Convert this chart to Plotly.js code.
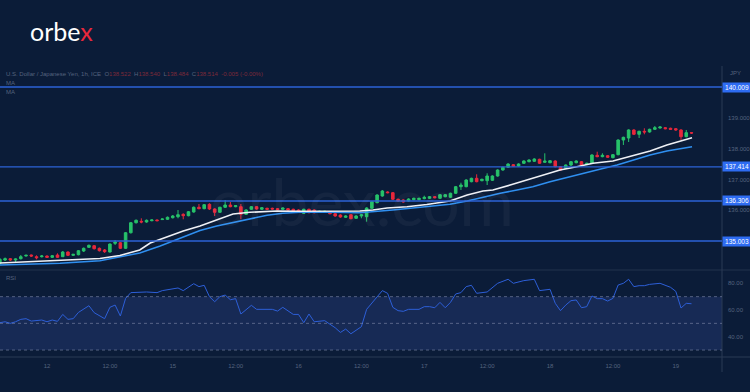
<!DOCTYPE html>
<html><head><meta charset="utf-8">
<script src="https://cdn.plot.ly/plotly-3.0.1.min.js"></script>
<style>html,body{margin:0;padding:0;background:#0b1c38;overflow:hidden}#chart{width:750px;height:392px}</style>
</head><body><div id="chart"></div>
<script>
// ---- data (USD/JPY 1h) ----
const openP = [134.279,134.386,134.428,134.386,134.428,134.516,134.548,134.493,134.493,134.516,134.473,134.548,134.493,134.646,134.538,134.558,134.678,134.798,134.850,134.766,134.711,134.646,134.928,134.948,134.766,135.273,135.598,135.644,135.621,135.664,135.687,135.700,135.709,135.761,135.793,135.871,135.826,135.947,136.100,136.054,136.197,136.044,135.937,136.100,136.174,136.119,136.119,135.871,136.035,136.119,136.035,136.067,136.067,136.054,136.035,136.054,136.035,136.011,135.904,136.035,136.011,135.937,135.937,135.956,135.891,135.849,135.774,135.858,135.742,135.817,135.793,136.067,136.249,136.467,136.597,136.574,136.360,136.337,136.304,136.347,136.347,136.380,136.392,136.444,136.392,136.444,136.425,136.555,136.769,136.769,136.932,137.042,136.964,136.964,136.977,137.117,137.312,137.400,137.484,137.442,137.530,137.582,137.595,137.660,137.562,137.549,137.605,137.419,137.364,137.474,137.549,137.582,137.494,137.530,137.790,137.745,137.777,137.713,137.810,138.287,138.352,138.613,138.473,138.570,138.548,138.635,138.678,138.687,138.668,138.655,138.613,138.395,138.522];
const highP = [134.451,134.467,134.451,134.435,134.548,134.564,134.564,134.538,134.548,134.532,134.548,134.603,134.678,134.662,134.581,134.711,134.792,134.889,134.873,134.792,134.743,134.922,135.036,134.971,135.296,135.621,135.703,135.742,135.703,135.703,135.703,135.735,135.800,135.849,136.011,135.904,135.979,136.126,136.207,136.207,136.230,136.067,136.119,136.337,136.272,136.174,136.207,136.035,136.142,136.142,136.109,136.087,136.087,136.077,136.093,136.077,136.054,136.035,136.054,136.054,136.035,135.989,135.989,135.979,135.914,135.871,135.839,135.881,135.839,135.881,136.100,136.304,136.522,136.662,136.619,136.597,136.380,136.360,136.392,136.412,136.412,136.477,136.467,136.467,136.532,136.532,136.574,136.792,136.899,137.010,137.062,137.172,137.029,137.205,137.140,137.335,137.419,137.530,137.507,137.530,137.627,137.660,137.692,137.679,137.855,137.637,137.627,137.442,137.494,137.605,137.627,137.605,137.549,137.822,137.907,137.855,137.800,137.832,138.310,138.395,138.635,138.635,138.590,138.668,138.655,138.743,138.733,138.710,138.687,138.678,138.635,138.613,138.540];
const lowP = [134.224,134.354,134.354,134.311,134.402,134.499,134.483,134.409,134.467,134.451,134.451,134.451,134.483,134.516,134.516,134.538,134.646,134.776,134.727,134.662,134.617,134.630,134.873,134.743,134.743,135.247,135.572,135.579,135.598,135.644,135.644,135.687,135.687,135.735,135.742,135.709,135.806,135.924,136.035,136.035,136.011,135.817,135.914,136.077,136.100,136.100,135.709,135.849,136.011,136.022,136.011,136.011,136.022,136.001,136.011,135.989,135.956,135.924,135.881,135.904,135.904,135.914,135.914,135.871,135.793,135.761,135.751,135.709,135.719,135.742,135.632,136.044,136.230,136.444,136.554,136.337,136.282,136.249,136.282,136.327,136.327,136.360,136.369,136.392,136.369,136.425,136.402,136.532,136.662,136.750,136.912,136.912,136.945,136.824,136.955,137.094,137.289,137.377,137.410,137.419,137.507,137.562,137.572,137.507,137.540,137.530,137.400,137.289,137.345,137.442,137.530,137.452,137.474,137.507,137.726,137.726,137.702,137.689,137.790,138.125,138.222,138.450,138.352,138.473,138.525,138.613,138.655,138.635,138.613,138.590,138.287,138.375,138.484];
const closeP = [134.409,134.428,134.386,134.418,134.493,134.538,134.516,134.460,134.516,134.473,134.525,134.473,134.646,134.538,134.571,134.688,134.766,134.863,134.753,134.688,134.656,134.906,134.971,134.766,135.273,135.598,135.677,135.621,135.677,135.687,135.664,135.719,135.774,135.817,135.858,135.826,135.956,136.100,136.054,136.184,136.044,135.937,136.100,136.174,136.119,136.152,135.871,136.011,136.119,136.044,136.087,136.035,136.044,136.022,136.077,136.011,135.979,135.947,136.035,135.924,135.924,135.969,135.969,135.891,135.817,135.784,135.817,135.729,135.817,135.858,136.077,136.282,136.499,136.629,136.574,136.360,136.304,136.272,136.369,136.392,136.392,136.425,136.444,136.412,136.509,136.509,136.555,136.769,136.824,136.987,137.042,136.932,137.010,137.117,137.117,137.312,137.400,137.507,137.432,137.507,137.605,137.637,137.670,137.530,137.605,137.614,137.419,137.312,137.474,137.582,137.605,137.475,137.530,137.800,137.745,137.790,137.726,137.810,138.287,138.375,138.613,138.473,138.570,138.548,138.635,138.687,138.710,138.655,138.635,138.613,138.395,138.525,138.514];

const maFastX = [0,11.5,19.1,22.9,26.7,28.7,31.9,35,38.2,41.4,44.5,47.7,52.9,57.3,63.6,68.7,71.2,73.9,77.7,81.5,85.9,89.2,92.2,94.1,97.4,101.7,105,106.9,110.1,113.2,117,120.3,124.1,127.3,130.4,132.1];
const maFast = [134.289,134.370,134.435,134.533,134.711,134.939,135.134,135.329,135.492,135.703,135.882,135.937,135.979,135.970,135.979,135.979,136.011,136.077,136.119,136.191,136.304,136.500,136.630,136.662,136.824,137.042,137.205,137.312,137.419,137.530,137.605,137.745,137.930,138.125,138.265,138.362];
const maSlowX = [0,11.5,19.1,23.9,26.7,30.6,34.4,38.2,41.4,44.5,47.2,51,54,57.3,63.6,68.7,75,80.2,85.9,89.2,92.2,95.5,98.7,101.7,105,108.2,111.3,114.5,117.8,120.8,124.1,127.3,130.4,132.1];
const maSlow = [134.224,134.279,134.363,134.516,134.614,134.841,135.085,135.345,135.492,135.605,135.687,135.840,135.905,135.937,135.937,135.924,136.011,136.100,136.200,136.304,136.425,136.555,136.662,136.769,136.932,137.075,137.205,137.335,137.475,137.637,137.800,137.930,138.018,138.070];

const rsiX = [0,1,2,3,4,5,6,7,8,9,10,11,12,13,14,15,17,18,20,21,22,23,24,25,27,28,30,31,34,35,37,38,39,40,41,42,43,44,45,46,48,49,52,53,54,56,57,58,59,60,62,64,65,66,67,68,69,70,72,73,74,75,76,77,78,80,81,82,83,84,85,86,87,88,89,90,91,93,95,97,98,100,102,103,105,106,107,108,109,110,111,112,113,114,115,116,117,118,119,120,121,122,123,124,126,128,129,130,131,132];
const rsi = [50.5,51.2,50,51.2,53,53.5,51.7,52,52.5,51.2,52.5,51.5,56.7,53,53.5,58.2,63.2,58,53.5,62,63.7,55.5,68.7,73,73.2,73.5,73,74.5,76.5,74.5,79.7,77.5,78.5,70,66.2,70,71.2,67.7,68.5,57,63.5,60.5,60.5,59.2,62,56.7,56.7,50.5,57,51.2,52,46.7,43.2,45.7,42.2,45,47.5,60.5,70,74.5,72.5,62,59.5,59,60.5,60.5,62.5,62.5,61.7,65.7,61.7,65.7,72,73,77.5,78.5,72.5,73.5,80,83,80,82,83,74.5,75.5,65,59.5,63.7,67,67.5,61.7,62.5,70.5,68.5,68.5,66.7,68.7,78.7,80,83,77.5,78.2,78.2,79.2,80,77,74,61.5,65,64.7];

const levels = [140.009, 137.414, 136.306, 135.003];
const priceTicks = [136, 137, 138, 139];
const rsiTicks = [40, 60, 80];
const rsiGuides = [70, 50, 30];
const timeTickPos = [9,21,33,45,57,69,81,93,105,117,129];
const timeTickText = ['12','12:00','15','12:00','16','12:00','17','12:00','18','12:00','19'];
const header = {name:'U.S. Dollar / Japanese Yen, 1h, ICE', o:'138.522', h:'138.540', l:'138.484', c:'138.514', chg:'-0.005 (-0.00%)'};

// ---- layout constants ----
const W = 750, H = 392;
const XR = 722 / W;                 // right edge of plot
const priceDom = [(H-270)/H, (H-62)/H];
const rsiDom = [(H-357)/H, (H-270)/H];
const GREEN = '#27c26a', RED = '#e8283c';
const idx = closeP.map((_, i) => i);
const dim = '#55637e';
const nb = '\u00a0';

const traces = [
  {type:'candlestick', x: idx, open: openP, high: highP, low: lowP, close: closeP,
   increasing:{line:{color:GREEN, width:1}, fillcolor:GREEN},
   decreasing:{line:{color:RED, width:1}, fillcolor:RED},
   whiskerwidth:0, hoverinfo:'skip', xaxis:'x', yaxis:'y'},
  {type:'scatter', mode:'lines', x: maSlowX, y: maSlow, line:{color:'#2f8ff0', width:1.5}, hoverinfo:'skip', xaxis:'x', yaxis:'y'},
  {type:'scatter', mode:'lines', x: maFastX, y: maFast, line:{color:'#eef0f5', width:1.6}, hoverinfo:'skip', xaxis:'x', yaxis:'y'},
  {type:'scatter', mode:'lines', x: rsiX, y: rsi, line:{color:'#2d5fd8', width:1}, hoverinfo:'skip', xaxis:'x', yaxis:'y2'}
];

const shapes = [
  // RSI band
  {type:'rect', xref:'paper', yref:'y2', x0:0, x1:XR, y0:30, y1:70, fillcolor:'#172a55', line:{width:0}, layer:'below'},
  // pane separators / axis lines
  {type:'line', xref:'paper', yref:'paper', x0:0, x1:1, y0:priceDom[0], y1:priceDom[0], line:{color:'#22324d', width:1}},
  {type:'line', xref:'paper', yref:'paper', x0:0, x1:1, y0:rsiDom[0], y1:rsiDom[0], line:{color:'#2a3a55', width:1}},
  {type:'line', xref:'paper', yref:'paper', x0:XR, x1:XR, y0:(H-372)/H, y1:(H-66)/H, line:{color:'#2a3a55', width:1}}
];
rsiGuides.forEach(v => shapes.push({type:'line', xref:'paper', yref:'y2', x0:0, x1:XR, y0:v, y1:v,
  line:{color:'rgba(140,150,180,0.55)', width:1, dash:'dot'}}));
levels.forEach(v => shapes.push({type:'line', xref:'paper', yref:'y', x0:0, x1:XR, y0:v, y1:v,
  line:{color:'#2c62d6', width:1.4}}));

const annotations = [
  {xref:'paper', yref:'paper', x:28/W, y:(H-31)/H, xanchor:'left', yanchor:'middle', showarrow:false,
   text:'orbe<span style="color:#e8283c">x</span>', font:{family:'Lato, Open Sans, sans-serif', size:25, color:'#ffffff'}},
  {xref:'paper', yref:'paper', x:362/W, y:(H-200)/H, xanchor:'center', yanchor:'middle', showarrow:false,
   text:'orbex.com', font:{family:'Lato, Open Sans, sans-serif', size:66, color:'rgba(255,255,255,0.045)'}},
  {xref:'paper', yref:'paper', x:4/W, y:(H-74)/H, xanchor:'left', yanchor:'middle', showarrow:false,
   text: header.name + nb+nb+'O<span style="color:#7d2a38">'+header.o+'</span>'+nb+nb+'H<span style="color:#7d2a38">'+header.h+'</span>'+nb+nb+'L<span style="color:#7d2a38">'+header.l+'</span>'+nb+nb+'C<span style="color:#7d2a38">'+header.c+'</span>'+nb+nb+'<span style="color:#7d2a38">'+header.chg+'</span>',
   font:{family:'Liberation Sans, Arial', size:6, color:dim}},
  {xref:'paper', yref:'paper', x:4/W, y:(H-83)/H, xanchor:'left', yanchor:'middle', showarrow:false, text:'MA', font:{family:'Liberation Sans, Arial', size:6, color:dim}},
  {xref:'paper', yref:'paper', x:4/W, y:(H-92)/H, xanchor:'left', yanchor:'middle', showarrow:false, text:'MA', font:{family:'Liberation Sans, Arial', size:6, color:dim}},
  {xref:'paper', yref:'paper', x:4/W, y:(H-278)/H, xanchor:'left', yanchor:'middle', showarrow:false, text:'RSI', font:{family:'Liberation Sans, Arial', size:6, color:dim}},
  {xref:'paper', yref:'paper', x:728/W, y:(H-73)/H, xanchor:'left', yanchor:'middle', showarrow:false, text:'JPY', font:{family:'Liberation Sans, Arial', size:6, color:dim}}
];
levels.forEach(v => annotations.push({xref:'paper', yref:'y', x:XR, y:v, xanchor:'left', yanchor:'middle', showarrow:false,
  text: v.toFixed(3), bgcolor:'#2e6cf2', width:27, height:8, borderpad:0.5,
  font:{family:'Liberation Sans, Arial', size:6.5, color:'#ffffff'}}));

const layout = {
  width: W, height: H, margin:{l:0, r:0, t:0, b:0},
  paper_bgcolor:'#0b1c38', plot_bgcolor:'rgba(0,0,0,0)', showlegend:false,
  xaxis:{domain:[0, XR], range:[0.03, 137.82], anchor:'y2', showgrid:false, zeroline:false, showline:false,
    ticks:'', tickvals: timeTickPos, ticktext: timeTickText, ticklabelstandoff:4,
    tickfont:{family:'Liberation Sans, Arial', size:6, color:dim}, rangeslider:{visible:false}, fixedrange:true},
  yaxis:{domain: priceDom, range:[134.061, 140.823], side:'right', anchor:'x', showgrid:false, zeroline:false, showline:false,
    ticks:'', tickvals: priceTicks, ticktext: priceTicks.map(v => v.toFixed(3)), ticklabelstandoff:5,
    tickfont:{family:'Liberation Sans, Arial', size:6, color:dim}},
  yaxis2:{domain: rsiDom, range:[24.8, 89.96], side:'right', anchor:'x', showgrid:false, zeroline:false, showline:false,
    ticks:'', tickvals: rsiTicks, ticktext: rsiTicks.map(v => v.toFixed(2)), ticklabelstandoff:5,
    tickfont:{family:'Liberation Sans, Arial', size:6, color:dim}},
  shapes, annotations
};

Plotly.newPlot('chart', traces, layout, {staticPlot:true, displayModeBar:false});
</script>
</body></html>
